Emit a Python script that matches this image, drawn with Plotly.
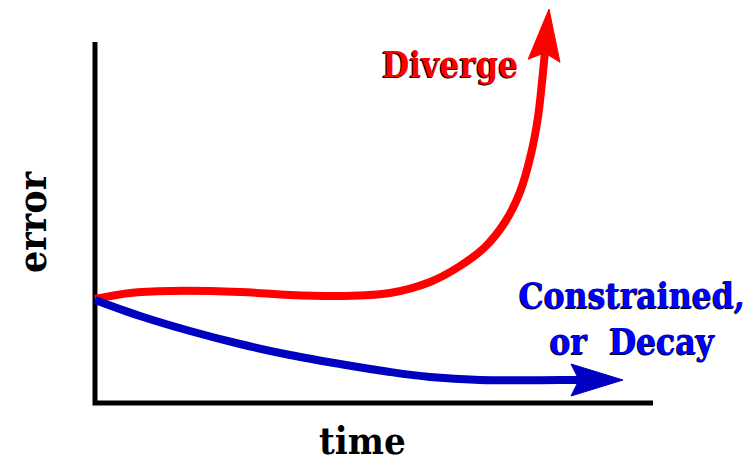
import numpy as np
import plotly.graph_objects as go

# ---- data (time / error in arbitrary units) ----
diverge_time = [0.0, 0.7, 1.5, 2.9, 3.9, 4.9, 5.9, 6.7, 7.3, 7.8, 8.2, 8.5, 8.72, 8.86, 8.95, 9.08]
diverge_error = [2.08, 2.2, 2.24, 2.22, 2.16, 2.14, 2.2, 2.42, 2.74, 3.12, 3.62, 4.22, 4.98, 5.72, 6.52, 7.88]

decay_time = [0.0, 0.9, 1.9, 2.9, 3.9, 4.9, 5.9, 6.7, 7.7, 9.3, 10.56]
decay_error = [2.06, 1.74, 1.44, 1.18, 0.96, 0.78, 0.62, 0.52, 0.46, 0.46, 0.46]

axis_time = [0.0, 0.0, 11.16]
axis_error = [7.22, 0.0, 0.0]

labels = {"x": "time", "y": "error", "diverge": "Diverge",
          "decay": "Constrained,<br>or&nbsp; Decay"}

RED = "#FF0000"
BLUE_LINE = "#0000C0"
BLUE_TXT = "#0000FF"
FONT = "DejaVu Serif Condensed, DejaVu Serif, serif"


def arrow(xs, ys, length=1.04, half=0.32, notch=0.16):
    """Return shaft points (trimmed to notch) and arrowhead polygon."""
    tx, ty = xs[-1], ys[-1]
    dx, dy = tx - xs[-2], ty - ys[-2]
    n = np.hypot(dx, dy)
    dx, dy = dx / n, dy / n
    px, py = -dy, dx
    bx, by = tx - length * dx, ty - length * dy
    nx, ny = tx - (length - notch) * dx, ty - (length - notch) * dy
    shaft_x = list(xs[:-1]) + [nx]
    shaft_y = list(ys[:-1]) + [ny]
    head_x = [tx, bx + half * px, nx, bx - half * px, tx]
    head_y = [ty, by + half * py, ny, by - half * py, ty]
    return shaft_x, shaft_y, head_x, head_y


fig = go.Figure()

fig.add_trace(go.Scatter(x=axis_time, y=axis_error, mode="lines",
                         line=dict(color="black", width=5), hoverinfo="skip"))

for xs, ys, col, head in [(diverge_time, diverge_error, RED, RED),
                          (decay_time, decay_error, BLUE_LINE, BLUE_LINE)]:
    sx, sy, hx, hy = arrow(xs, ys)
    fig.add_trace(go.Scatter(x=sx, y=sy, mode="lines",
                             line=dict(color=col, width=8, shape="spline", smoothing=1),
                             hoverinfo="skip"))
    fig.add_trace(go.Scatter(x=hx, y=hy, mode="lines", fill="toself",
                             fillcolor=head, line=dict(color=head, width=1),
                             hoverinfo="skip"))

shadow = "-1px 1px 0px #000"
common = dict(xref="paper", yref="paper", showarrow=False, xanchor="center", yanchor="middle")
fig.add_annotation(text=labels["diverge"], x=450 / 749, y=1 - 64 / 464, **common,
                   font=dict(family=FONT, size=35, color=RED, weight="bold", shadow=shadow))
fig.add_annotation(text=labels["decay"], x=632 / 749, y=1 - 318 / 464, align="center", **common,
                   font=dict(family=FONT, size=35, color=BLUE_TXT, weight="bold", shadow=shadow))
fig.add_annotation(text=labels["x"], x=362 / 749, y=1 - 440 / 464, **common,
                   font=dict(family=FONT, size=38, color="black", weight="bold"))
fig.add_annotation(text=labels["y"], x=32 / 749, y=1 - 222 / 464, textangle=-90, **common,
                   font=dict(family=FONT, size=39, color="black", weight="bold"))

fig.update_layout(
    width=749, height=464, margin=dict(l=0, r=0, t=0, b=0),
    paper_bgcolor="white", plot_bgcolor="white", showlegend=False,
    xaxis=dict(range=[-1.9, 13.08], visible=False, fixedrange=True),
    yaxis=dict(range=[-1.22, 8.06], visible=False, fixedrange=True),
)

fig.write_html("out.html", config={"displayModeBar": False},
               post_script="document.body.style.margin='0';")
